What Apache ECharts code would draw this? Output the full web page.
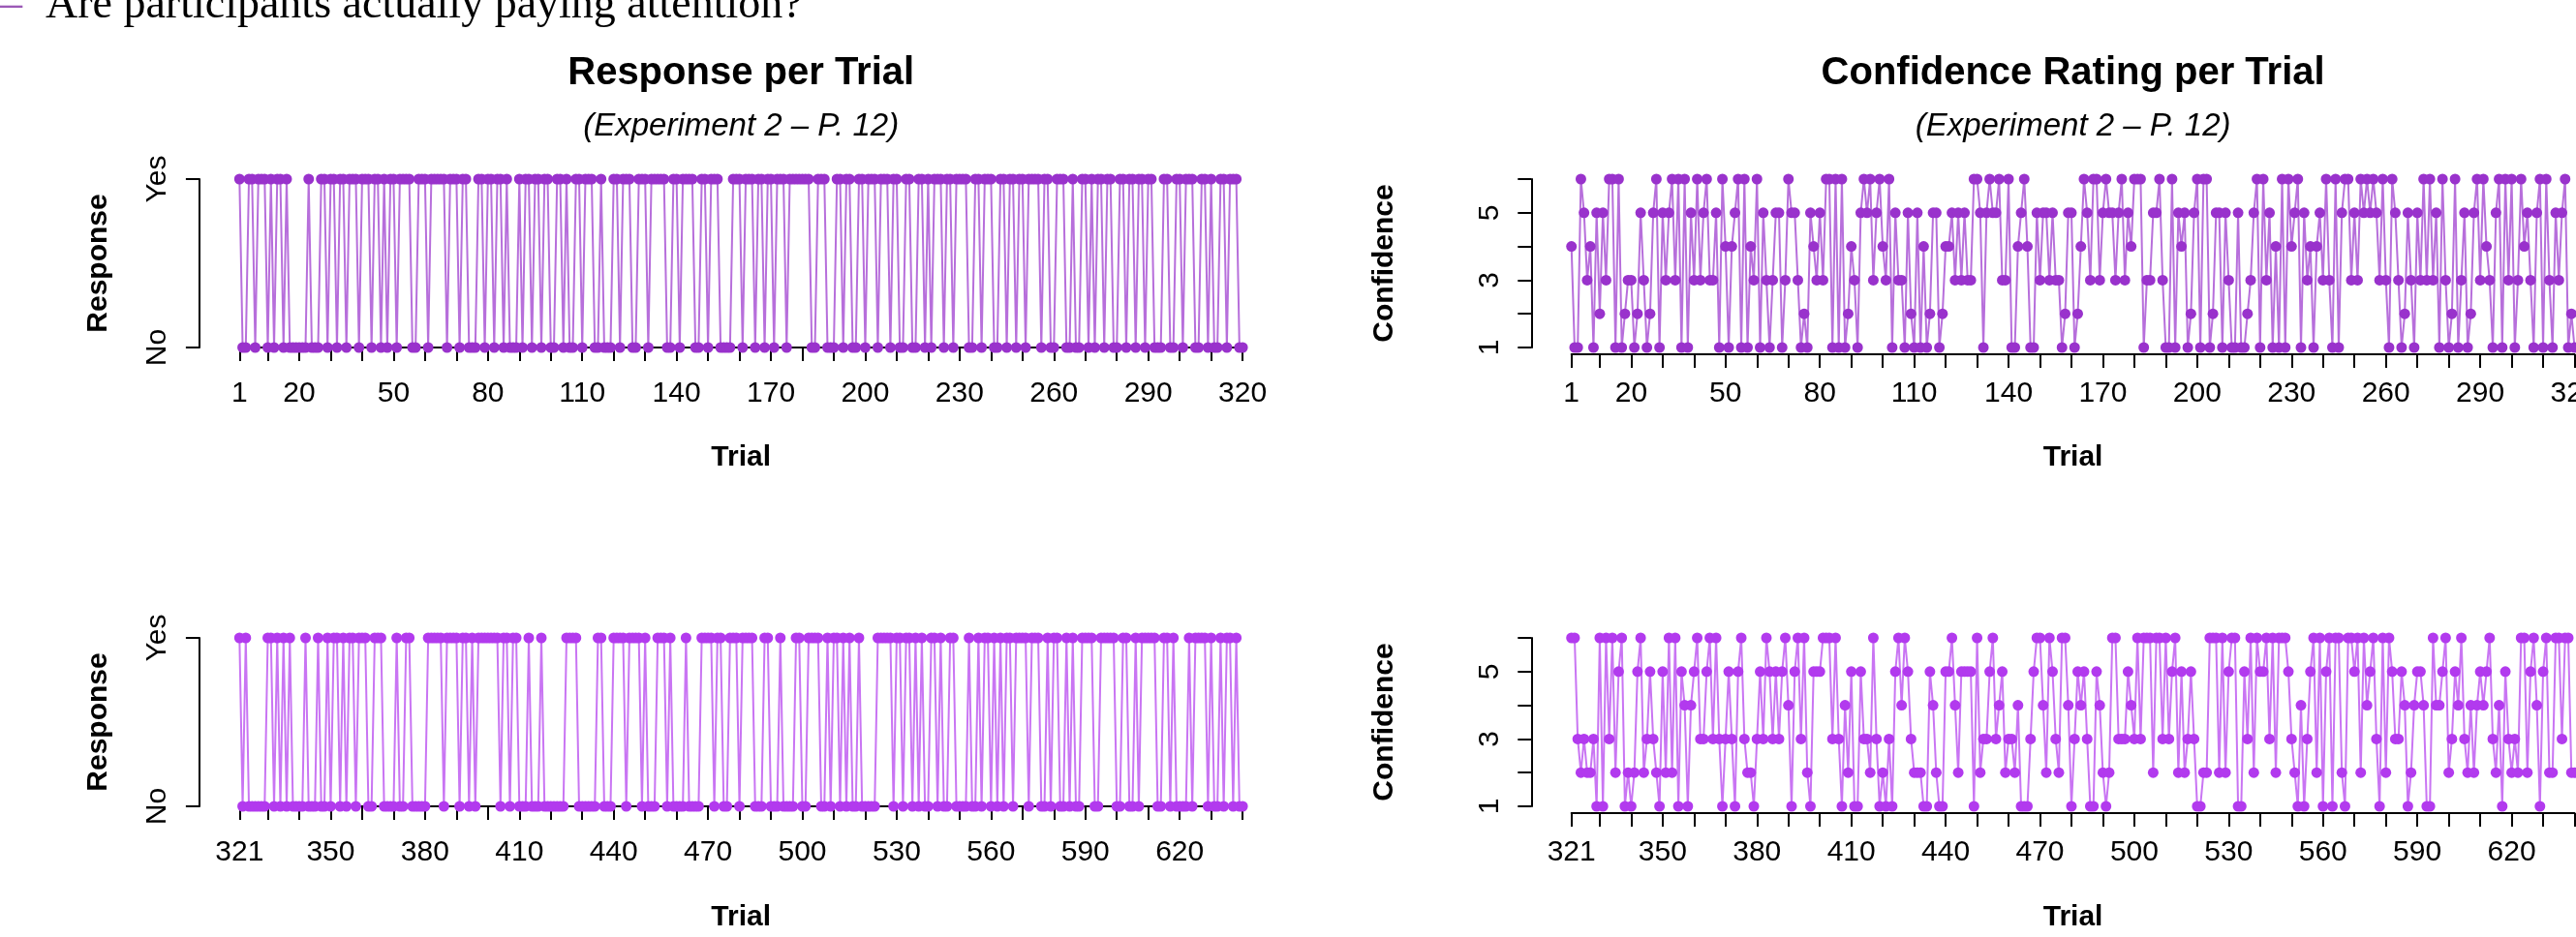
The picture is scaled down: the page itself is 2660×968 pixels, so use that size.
<!DOCTYPE html>
<html>
<head>
<meta charset="utf-8">
<script src="https://cdn.jsdelivr.net/npm/echarts@6/dist/echarts.min.js"></script>
<style>
  html, body { margin: 0; padding: 0; background: #fff; }
  #main { width: 2660px; height: 968px; }
</style>
</head>
<body>
<div id="main"></div>
<script>
// responses, 1 = Yes, 0 = No (trials 1-320 and 321-640)
const respTop = [
  1,0,0,1,1,0,1,1,1,0, 1,0,1,1,0,1,0,0,0,0, 0,0,1,0,0,0,1,1,0,1, 1,0,1,1,0,1,1,1,0,1,
  1,1,0,1,1,0,1,0,1,1, 0,1,1,1,1,0,0,1,1,1, 0,1,1,1,1,1,0,1,1,1, 0,1,1,0,0,0,1,1,0,1,
  1,0,1,1,0,1,0,0,0,1, 0,1,1,0,1,1,0,1,1,0, 0,1,1,0,1,0,0,1,1,0, 1,1,1,0,0,1,0,0,0,1,
  1,0,1,1,1,0,0,1,1,1, 0,1,1,1,1,1,0,0,1,1, 0,1,1,1,1,0,0,1,1,0, 1,1,1,0,0,0,0,1,1,1,
  0,1,1,1,0,1,1,0,1,1, 0,1,1,1,0,1,1,1,1,1, 1,1,0,0,1,1,1,0,0,0, 1,1,0,1,1,0,0,1,1,0,
  1,1,1,0,1,1,1,0,1,1, 0,0,1,1,0,0,1,1,0,1, 0,1,1,1,0,1,1,0,1,1, 1,1,0,0,1,1,0,1,1,1,
  0,0,1,1,0,1,1,0,1,1, 0,1,1,1,1,0,1,1,0,0, 1,1,1,0,0,1,0,0,1,1, 0,1,0,1,1,0,1,1,0,0,
  1,1,0,1,1,0,1,1,0,1, 1,0,0,0,1,1,0,0,1,1, 0,1,1,1,0,0,1,1,0,1, 0,0,1,1,0,1,1,1,0,0
];
const respBottom = [
  1,0,1,0,0,0,0,0,0,1, 1,0,1,0,1,0,1,0,0,0, 0,1,0,0,0,1,0,0,1,0, 1,1,0,1,0,1,1,0,1,1,
  1,0,0,1,1,1,0,0,0,0, 1,0,0,1,1,0,0,0,0,0, 1,1,1,1,1,0,1,1,1,1, 0,1,1,0,1,0,1,1,1,1,
  1,1,1,0,1,1,0,1,1,0, 0,0,1,0,0,0,1,0,0,0, 0,0,0,0,1,1,1,1,0,0, 0,0,0,0,1,1,0,0,0,1,
  1,1,1,0,1,1,1,1,0,1, 0,0,0,1,1,1,0,1,0,0, 0,0,1,0,0,0,0,1,1,1, 1,0,1,1,0,0,1,1,1,0,
  1,1,1,1,0,0,0,1,1,0, 0,0,1,0,0,0,0,1,1,0, 0,1,1,1,1,0,0,1,0,1, 1,0,1,0,1,0,0,1,0,0,
  0,0,0,1,1,1,1,1,0,1, 1,0,1,1,0,1,0,1,0,0, 1,1,0,1,0,0,1,1,0,0, 0,0,1,0,0,1,0,1,1,0,
  1,0,1,0,1,1,0,1,1,1, 1,0,1,1,1,0,0,1,0,1, 1,0,0,1,0,1,0,0,1,1, 1,1,0,0,1,1,1,1,1,0,
  0,1,1,0,0,1,0,1,1,1, 1,1,0,0,1,1,0,1,0,0, 0,0,1,0,1,1,1,1,0,1, 0,0,1,0,1,1,0,1,0,0
];
// confidence ratings 1-6
const confTop = [
  4,1,1,6,5,3,4,1,5,2, 5,3,6,6,1,6,1,2,3,3, 1,2,5,3,1,2,5,6,1,5, 3,5,6,3,6,1,6,1,5,3,
  6,3,5,6,3,3,5,1,6,4, 1,4,5,6,1,6,1,4,3,6, 1,5,3,1,3,5,5,1,3,6, 5,5,3,1,2,1,5,4,3,5,
  3,6,6,1,6,1,6,1,2,4, 3,1,5,6,5,6,3,5,6,4, 3,6,1,5,3,3,1,5,2,1, 5,1,4,1,2,5,5,1,2,4,
  4,5,3,5,3,5,3,3,6,6, 5,1,5,6,5,5,6,3,3,6, 1,1,4,5,6,4,1,1,5,3, 5,5,3,5,3,3,1,2,5,5,
  1,2,4,6,5,3,6,6,3,5, 6,5,5,3,5,6,3,5,4,6, 6,6,1,3,3,5,5,6,3,1, 1,6,1,5,4,5,1,2,5,6,
  1,6,6,1,2,5,5,1,5,3, 1,1,5,1,1,2,3,5,6,1, 6,3,5,1,4,1,6,1,6,4, 5,6,1,5,3,4,1,4,5,3,
  6,3,1,6,1,5,6,6,3,5, 3,6,5,6,5,6,5,3,6,3, 1,6,5,3,1,2,5,3,1,5, 3,6,3,6,3,5,1,6,3,1,
  2,6,1,3,5,1,2,5,6,3, 6,4,3,1,5,6,1,6,3,6, 1,3,6,4,5,3,1,5,6,1, 6,3,1,5,3,5,6,1,2,1
];
const confBottom = [
  6,6,3,2,3,2,2,3,1,6, 1,6,3,6,2,5,6,1,2,1, 2,5,6,2,3,5,3,2,1,5, 2,6,2,6,1,5,4,1,4,5,
  6,3,3,5,6,3,6,3,1,3, 5,3,1,5,6,3,2,2,1,3, 5,3,6,5,3,5,3,5,6,4, 1,5,6,3,6,2,1,5,5,5,
  6,6,6,3,6,3,1,4,2,5, 1,1,5,3,3,2,6,3,1,2, 1,3,1,5,6,4,6,5,3,2, 2,2,1,1,5,4,2,1,1,5,
  5,6,4,2,5,5,5,5,1,6, 2,3,3,5,6,3,4,5,2,3, 3,2,4,1,1,1,3,5,6,6, 4,2,6,5,3,2,6,6,4,1,
  3,5,4,5,3,1,1,5,4,2, 1,2,6,6,3,3,3,5,4,3, 6,3,6,6,6,2,6,6,3,6, 3,5,6,2,5,2,3,5,3,1,
  1,2,2,6,6,6,2,6,2,5, 6,6,1,1,5,3,6,2,6,5, 5,6,3,6,2,6,6,6,5,3, 2,1,4,1,3,5,6,2,6,1,
  5,6,1,6,6,2,1,6,6,5, 6,2,6,4,5,6,3,1,6,2, 6,5,3,3,5,4,1,2,4,5, 5,4,1,1,6,4,4,5,6,2,
  3,5,4,6,3,2,4,2,4,5, 4,5,6,3,2,4,1,5,3,2, 3,2,6,6,2,5,6,4,1,5, 6,2,2,6,6,3,6,6,2,2
];

// axis ticks and labels
const ticksTop = [1,10,20,30,40,50,60,70,80,90,100,110,120,130,140,150,160,170,180,190,200,210,220,230,240,250,260,270,280,290,300,310,320];
const labelsTop = [1,20,50,80,110,140,170,200,230,260,290,320];
const ticksBottom = [321,330,340,350,360,370,380,390,400,410,420,430,440,450,460,470,480,490,500,510,520,530,540,550,560,570,580,590,600,610,620,630,640];
const labelsBottom = [321,350,380,410,440,470,500,530,560,590,620];
const respTicks = [0, 1];
const respNames = ['No', 'Yes'];
const confTicks = [1, 2, 3, 4, 5, 6];
const confLabels = [1, 3, 5];

const trialsTop = respTop.map((_, i) => i + 1);
const trialsBottom = respBottom.map((_, i) => i + 321);

const FONT = '"Liberation Sans", Arial, Helvetica, sans-serif';
const SERIF = '"Liberation Serif", "DejaVu Serif", serif';
const BASE = 30;
const PURPLE_TOP = '#9932CC';
const PURPLE_BOTTOM = '#B23AEE';

// panel geometry (px)
const LEFT_X = 247.3, RIGHT_X = 1622.7, PW = 1035.8, PH = 174;
const TOP_Y = 185, BOT_Y = 659;
const X_OFFSET = 7, LABEL_MARGIN = 26;

const panels = [
  { x: LEFT_X,  y: TOP_Y, trials: trialsTop,    vals: respTop,    kind: 'resp', ticks: ticksTop,    labels: labelsTop,    color: PURPLE_TOP },
  { x: RIGHT_X, y: TOP_Y, trials: trialsTop,    vals: confTop,    kind: 'conf', ticks: ticksTop,    labels: labelsTop,    color: PURPLE_TOP, edgeLabel: true },
  { x: LEFT_X,  y: BOT_Y, trials: trialsBottom, vals: respBottom, kind: 'resp', ticks: ticksBottom, labels: labelsBottom, color: PURPLE_BOTTOM },
  { x: RIGHT_X, y: BOT_Y, trials: trialsBottom, vals: confBottom, kind: 'conf', ticks: ticksBottom, labels: labelsBottom, color: PURPLE_BOTTOM }
];

function fade(hex, a) {
  const n = parseInt(hex.slice(1), 16);
  return 'rgba(' + (n >> 16) + ',' + ((n >> 8) & 255) + ',' + (n & 255) + ',' + a + ')';
}

function txt(x, y, s, font, extra) {
  return Object.assign({
    type: 'text', x: x, y: y, silent: true,
    style: Object.assign({
      text: s, fill: '#000', font: font,
      textAlign: 'center', textVerticalAlign: 'middle'
    }, extra && extra.style)
  }, extra && extra.rot ? { rotation: Math.PI / 2 } : {});
}

const grid = [], xAxis = [], yAxis = [], series = [], edgeLabels = [];
panels.forEach((p, i) => {
  grid.push({ left: p.x, top: p.y, width: PW, height: PH, containLabel: false });
  const axisLine = { show: true, lineStyle: { color: '#000', width: 2 } };
  // the last label of the right-hand panel runs off the picture, echarts would pull it inside
  let labels = p.labels;
  if (p.edgeLabel) {
    const last = labels[labels.length - 1];
    labels = labels.slice(0, -1);
    edgeLabels.push(txt(p.x + PW, p.y + PH + X_OFFSET + LABEL_MARGIN, String(last), BASE + 'px ' + FONT,
      { style: { textVerticalAlign: 'top' } }));
  }
  xAxis.push({
    gridIndex: i, type: 'value',
    min: p.trials[0], max: p.trials[p.trials.length - 1],
    offset: X_OFFSET,
    axisLine: axisLine,
    axisTick: { show: true, customValues: p.ticks, length: 14, lineStyle: { color: '#000', width: 2 } },
    axisLabel: {
      show: true, customValues: labels, fontSize: BASE, fontFamily: FONT, color: '#000', margin: LABEL_MARGIN,
      hideOverlap: false
    },
    splitLine: { show: false }
  });
  const isResp = p.kind === 'resp';
  yAxis.push({
    gridIndex: i, type: 'value',
    min: isResp ? 0 : 1, max: isResp ? 1 : 6,
    offset: 41.4,
    axisLine: axisLine,
    axisTick: { show: true, customValues: isResp ? respTicks : confTicks, length: 14, lineStyle: { color: '#000', width: 2 } },
    axisLabel: {
      show: true, customValues: isResp ? respTicks : confLabels, rotate: 90,
      fontSize: BASE, fontFamily: FONT, color: '#000', margin: 28,
      formatter: v => isResp ? respNames[respTicks.indexOf(v)] : String(v)
    },
    splitLine: { show: false }
  });
  series.push({
    type: 'line', xAxisIndex: i, yAxisIndex: i,
    data: p.trials.map((t, k) => [t, p.vals[k]]),
    symbol: 'circle', symbolSize: 11, showAllSymbol: true, clip: false,
    itemStyle: { color: p.color, borderWidth: 0 },
    lineStyle: { color: fade(p.color, 0.7), width: 2 },
    emphasis: { disabled: true }
  });
});

const cxL = LEFT_X + PW / 2, cxR = RIGHT_X + PW / 2;
const bold = 'bold ' + BASE + 'px ' + FONT;
const titleFont = 'bold 40px ' + FONT;
const subFont = 'italic 33px ' + FONT;
const graphic = [
  // slide heading, cut off at the top of the picture
  txt(0, 6, '\u2013', '46px ' + SERIF, { style: { fill: '#9B59B6', textAlign: 'left' } }),
  txt(47, 6, 'Are participants actually paying attention?', '46px ' + SERIF, { style: { textAlign: 'left' } }),
  txt(cxL, 76, 'Response per Trial', titleFont),
  txt(cxL, 131, '(Experiment 2 \u2013 P. 12)', subFont),
  txt(cxR, 76, 'Confidence Rating per Trial', titleFont),
  txt(cxR, 131, '(Experiment 2 \u2013 P. 12)', subFont),
  txt(cxL, 473, 'Trial', bold),
  txt(cxR, 473, 'Trial', bold),
  txt(cxL, 948, 'Trial', bold),
  txt(cxR, 948, 'Trial', bold),
  txt(102, TOP_Y + PH / 2, 'Response', bold, { rot: true }),
  txt(102, BOT_Y + PH / 2, 'Response', bold, { rot: true }),
  txt(1430, TOP_Y + PH / 2, 'Confidence', bold, { rot: true }),
  txt(1430, BOT_Y + PH / 2, 'Confidence', bold, { rot: true })
].concat(edgeLabels);

const chart = echarts.init(document.getElementById('main'), null, { renderer: 'canvas' });
chart.setOption({
  animation: false,
  backgroundColor: '#fff',
  grid: grid,
  xAxis: xAxis,
  yAxis: yAxis,
  series: series,
  graphic: graphic
});
</script>
</body>
</html>
